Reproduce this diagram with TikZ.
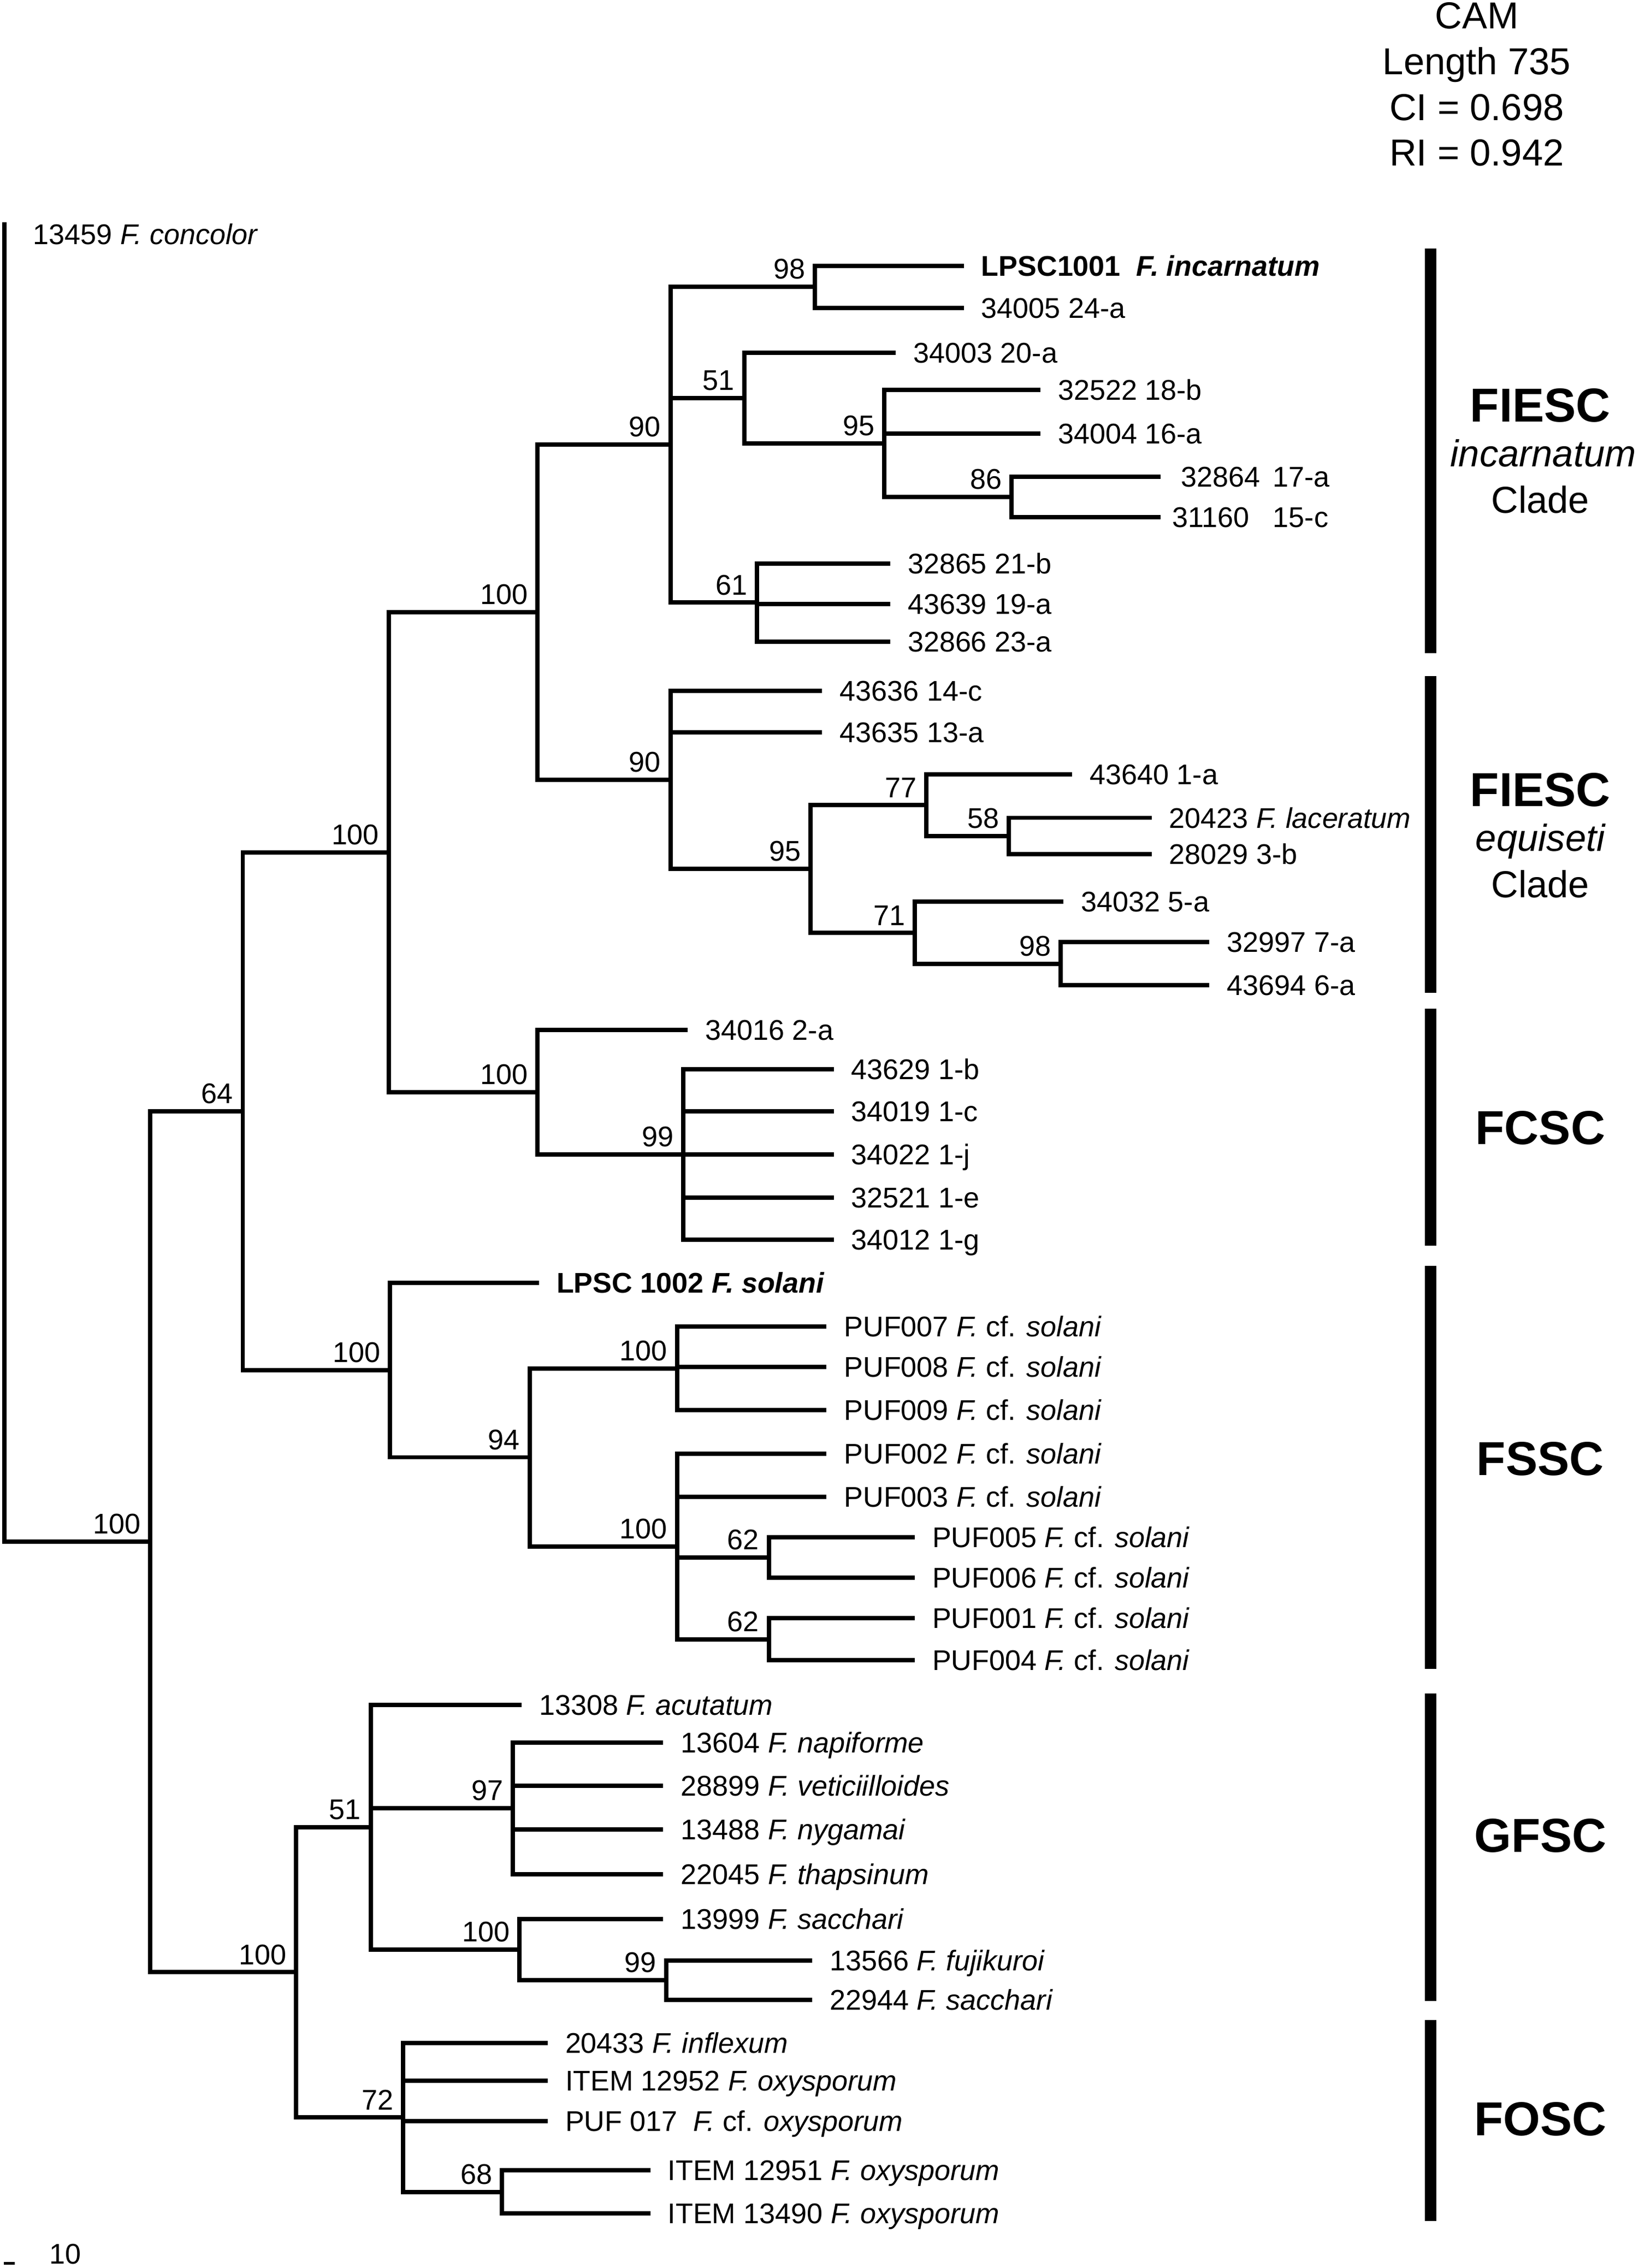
\documentclass[tikz,border=0pt]{standalone}
\usepackage{fontspec}
\setmainfont{Liberation Sans}
\usetikzlibrary{positioning}
\tikzset{
    x=1pt, y=-1pt, % picture measured in pt, y runs downwards
    branch/.style={line width=3pt}, % the tree lines
    leaf/.style={anchor=west, inner xsep=12pt, inner ysep=0pt, text height=14pt, text depth=0pt, font=\fontsize{19.7}{22}\selectfont},
    boot/.style={anchor=south east, inner sep=1.5pt, xshift=-5pt, yshift=3.5pt, font=\fontsize{19.7}{22}\selectfont},
    cladebar/.style={line width=8pt},
    cladename/.style={anchor=base, inner sep=0pt, font=\fontsize{33}{36}\selectfont\bfseries},
    cladesub/.style={anchor=base, inner sep=0pt, font=\fontsize{26}{30}\selectfont},
}

\begin{document}
\begin{tikzpicture}
    \useasboundingbox (0,0) rectangle (1134,1569.7);

    % statistics
    \node[anchor=north, align=center, inner sep=0pt, font=\fontsize{26}{31.7}\selectfont] (stats) at (1022,1.4) {CAM\\Length 735\\CI = 0.698\\RI = 0.942};

    % internal nodes
    \coordinate (rtop) at (3,154);
    \coordinate (n100i) at (104,1067);
    \coordinate (n64) at (168,769.1);
    \coordinate (n100c) at (269,589.9);
    \coordinate (n100a) at (372,423.7);
    \coordinate (n90a) at (464,307.75);
    \coordinate (n98a) at (564,198.5);
    \coordinate (n51a) at (515,275.5);
    \coordinate (n95a) at (612,307);
    \coordinate (n86) at (700,344);
    \coordinate (n61) at (524,417);
    \coordinate (n90b) at (464,539.7);
    \coordinate (n95b) at (561,601.4);
    \coordinate (n77) at (641,557.25);
    \coordinate (n58) at (698,578.5);
    \coordinate (n71) at (633,645.5);
    \coordinate (n98b) at (734,667);
    \coordinate (n100b) at (372,756);
    \coordinate (n99a) at (473,799);
    \coordinate (n100d) at (270,948.3);
    \coordinate (n94) at (366.5,1008.6);
    \coordinate (n100e) at (468.5,947);
    \coordinate (n100f) at (468.5,1070.25);
    \coordinate (n62a) at (532,1078);
    \coordinate (n62b) at (532,1134.5);
    \coordinate (n100h) at (205,1365);
    \coordinate (n51b) at (256.5,1264.6);
    \coordinate (n97) at (355,1251.5);
    \coordinate (n100g) at (359.5,1349.25);
    \coordinate (n99b) at (461,1370.5);
    \coordinate (n72) at (279,1465.5);
    \coordinate (n68) at (347.5,1517);

    % taxa
    \node[leaf] (concolor) at (10.8,162) {13459 \textit{F. concolor}};
    \node[leaf] (lpsc1001) at (667,184) {\bfseries LPSC1001\ \ \textit{F. incarnatum}};
    \node[leaf] (t34005) at (667,213) {34005 24-a};
    \node[leaf] (t34003) at (620,244) {34003 20-a};
    \node[leaf] (t32522) at (720,270) {32522 18-b};
    \node[leaf] (t34004) at (720,300) {34004 16-a};
    \node[leaf, inner xsep=14pt] (t32864) at (803,330) {32864\,\ 17-a};
    \node[leaf, inner xsep=8pt] (t31160) at (803,358) {31160\ \ \ 15-c};
    \node[leaf] (t32865) at (616,390) {32865 21-b};
    \node[leaf] (t43639) at (616,418) {43639 19-a};
    \node[leaf] (t32866) at (616,444) {32866 23-a};
    \node[leaf] (t43636) at (569,478) {43636 14-c};
    \node[leaf] (t43635) at (569,507) {43635 13-a};
    \node[leaf] (t43640) at (742,536) {43640 1-a};
    \node[leaf] (t20423) at (797,566) {20423 \textit{F. laceratum}};
    \node[leaf] (t28029) at (797,591) {28029 3-b};
    \node[leaf] (t34032) at (736,624) {34032 5-a};
    \node[leaf] (t32997) at (837,652) {32997 7-a};
    \node[leaf] (t43694) at (837,682) {43694 6-a};
    \node[leaf] (t34016) at (476,713) {34016 2-a};
    \node[leaf] (t43629) at (577,740) {43629 1-b};
    \node[leaf] (t34019) at (577,769) {34019 1-c};
    \node[leaf] (t34022) at (577,799) {34022 1-j};
    \node[leaf] (t32521) at (577,829) {32521 1-e};
    \node[leaf] (t34012) at (577,858) {34012 1-g};
    \node[leaf] (lpsc1002) at (373,888) {\bfseries LPSC 1002 \textit{F. solani}};
    \node[leaf] (puf007) at (572,918) {PUF007 \textit{F.} cf. \textit{solani}};
    \node[leaf] (puf008) at (572,946) {PUF008 \textit{F.} cf. \textit{solani}};
    \node[leaf] (puf009) at (572,976) {PUF009 \textit{F.} cf. \textit{solani}};
    \node[leaf] (puf002) at (572,1006) {PUF002 \textit{F.} cf. \textit{solani}};
    \node[leaf] (puf003) at (572,1036) {PUF003 \textit{F.} cf. \textit{solani}};
    \node[leaf] (puf005) at (633,1064) {PUF005 \textit{F.} cf. \textit{solani}};
    \node[leaf] (puf006) at (633,1092) {PUF006 \textit{F.} cf. \textit{solani}};
    \node[leaf] (puf001) at (633,1120) {PUF001 \textit{F.} cf. \textit{solani}};
    \node[leaf] (puf004) at (633,1149) {PUF004 \textit{F.} cf. \textit{solani}};
    \node[leaf] (t13308) at (361,1180) {13308 \textit{F. acutatum}};
    \node[leaf] (t13604) at (459,1206) {13604 \textit{F. napiforme}};
    \node[leaf] (t28899) at (459,1236) {28899 \textit{F. veticiilloides}};
    \node[leaf] (t13488) at (459,1266) {13488 \textit{F. nygamai}};
    \node[leaf] (t22045) at (459,1297) {22045 \textit{F. thapsinum}};
    \node[leaf] (t13999) at (459,1328) {13999 \textit{F. sacchari}};
    \node[leaf] (t13566) at (562,1357) {13566 \textit{F. fujikuroi}};
    \node[leaf] (t22944) at (562,1384) {22944 \textit{F. sacchari}};
    \node[leaf] (t20433) at (379,1414) {20433 \textit{F. inflexum}};
    \node[leaf] (item12952) at (379,1440) {ITEM 12952 \textit{F. oxysporum}};
    \node[leaf] (puf017) at (379,1468) {PUF 017\ \ \textit{F.} cf. \textit{oxysporum}};
    \node[leaf] (item12951) at (450,1502) {ITEM 12951 \textit{F. oxysporum}};
    \node[leaf] (item13490) at (450,1532) {ITEM 13490 \textit{F. oxysporum}};

    % branches
    \draw[branch] (rtop) |- (n100i);
    \draw[branch] (n100i) |- (n64) (n100i) |- (n100h);
    \draw[branch] (n64) |- (n100c) (n64) |- (n100d);
    \draw[branch] (n100c) |- (n100a) (n100c) |- (n100b);
    \draw[branch] (n100a) |- (n90a) (n100a) |- (n90b);
    \draw[branch] (n90a) |- (n98a) (n90a) |- (n51a) (n90a) |- (n61);
    \draw[branch] (n98a) |- (lpsc1001.west) (n98a) |- (t34005.west);
    \draw[branch] (n51a) |- (t34003.west) (n51a) |- (n95a);
    \draw[branch] (n95a) |- (t32522.west) (n95a) |- (t34004.west) (n95a) |- (n86);
    \draw[branch] (n86) |- (t32864.west) (n86) |- (t31160.west);
    \draw[branch] (n61) |- (t32865.west) (n61) |- (t43639.west) (n61) |- (t32866.west);
    \draw[branch] (n90b) |- (t43636.west) (n90b) |- (t43635.west) (n90b) |- (n95b);
    \draw[branch] (n95b) |- (n77) (n95b) |- (n71);
    \draw[branch] (n77) |- (t43640.west) (n77) |- (n58);
    \draw[branch] (n58) |- (t20423.west) (n58) |- (t28029.west);
    \draw[branch] (n71) |- (t34032.west) (n71) |- (n98b);
    \draw[branch] (n98b) |- (t32997.west) (n98b) |- (t43694.west);
    \draw[branch] (n100b) |- (t34016.west) (n100b) |- (n99a);
    \draw[branch] (n99a) |- (t43629.west) (n99a) |- (t34019.west) (n99a) |- (t34022.west)
                  (n99a) |- (t32521.west) (n99a) |- (t34012.west);
    \draw[branch] (n100d) |- (lpsc1002.west) (n100d) |- (n94);
    \draw[branch] (n94) |- (n100e) (n94) |- (n100f);
    \draw[branch] (n100e) |- (puf007.west) (n100e) |- (puf008.west) (n100e) |- (puf009.west);
    \draw[branch] (n100f) |- (puf002.west) (n100f) |- (puf003.west) (n100f) |- (n62a) (n100f) |- (n62b);
    \draw[branch] (n62a) |- (puf005.west) (n62a) |- (puf006.west);
    \draw[branch] (n62b) |- (puf001.west) (n62b) |- (puf004.west);
    \draw[branch] (n100h) |- (n51b) (n100h) |- (n72);
    \draw[branch] (n51b) |- (t13308.west) (n51b) |- (n97) (n51b) |- (n100g);
    \draw[branch] (n97) |- (t13604.west) (n97) |- (t28899.west) (n97) |- (t13488.west) (n97) |- (t22045.west);
    \draw[branch] (n100g) |- (t13999.west) (n100g) |- (n99b);
    \draw[branch] (n99b) |- (t13566.west) (n99b) |- (t22944.west);
    \draw[branch] (n72) |- (t20433.west) (n72) |- (item12952.west) (n72) |- (puf017.west) (n72) |- (n68);
    \draw[branch] (n68) |- (item12951.west) (n68) |- (item13490.west);

    % bootstrap values
    \node[boot] (b100i) at (n100i) {100};
    \node[boot] (b64) at (n64) {64};
    \node[boot] (b100c) at (n100c) {100};
    \node[boot] (b100a) at (n100a) {100};
    \node[boot] (b90a) at (n90a) {90};
    \node[boot] (b98a) at (n98a) {98};
    \node[boot] (b51a) at (n51a) {51};
    \node[boot] (b95a) at (n95a) {95};
    \node[boot] (b86) at (n86) {86};
    \node[boot] (b61) at (n61) {61};
    \node[boot] (b90b) at (n90b) {90};
    \node[boot] (b95b) at (n95b) {95};
    \node[boot] (b77) at (n77) {77};
    \node[boot] (b58) at (n58) {58};
    \node[boot] (b71) at (n71) {71};
    \node[boot] (b98b) at (n98b) {98};
    \node[boot] (b100b) at (n100b) {100};
    \node[boot] (b99a) at (n99a) {99};
    \node[boot] (b100d) at (n100d) {100};
    \node[boot] (b94) at (n94) {94};
    \node[boot] (b100e) at (n100e) {100};
    \node[boot] (b100f) at (n100f) {100};
    \node[boot] (b62a) at (n62a) {62};
    \node[boot] (b62b) at (n62b) {62};
    \node[boot] (b100h) at (n100h) {100};
    \node[boot] (b51b) at (n51b) {51};
    \node[boot] (b97) at (n97) {97};
    \node[boot] (b100g) at (n100g) {100};
    \node[boot] (b99b) at (n99b) {99};
    \node[boot] (b72) at (n72) {72};
    \node[boot] (b68) at (n68) {68};

    % clade bars and names
    \coordinate (bar1a) at (990,172);  \coordinate (bar1b) at (990,452);
    \coordinate (bar2a) at (990,468);  \coordinate (bar2b) at (990,687);
    \coordinate (bar3a) at (990,698);  \coordinate (bar3b) at (990,862);
    \coordinate (bar4a) at (990,876);  \coordinate (bar4b) at (990,1155);
    \coordinate (bar5a) at (990,1172); \coordinate (bar5b) at (990,1385);
    \coordinate (bar6a) at (990,1398); \coordinate (bar6b) at (990,1537);
    \draw[cladebar] (bar1a) -- (bar1b);
    \draw[cladebar] (bar2a) -- (bar2b);
    \draw[cladebar] (bar3a) -- (bar3b);
    \draw[cladebar] (bar4a) -- (bar4b);
    \draw[cladebar] (bar5a) -- (bar5b);
    \draw[cladebar] (bar6a) -- (bar6b);

    \node[cladename] (fiesc1) at (1066,292) {FIESC};
    \node[cladesub] (incarn) at (1068,323) {\itshape incarnatum};
    \node[cladesub] (clade1) at (1066,355) {Clade};
    \node[cladename] (fiesc2) at (1066,558) {FIESC};
    \node[cladesub] (equis) at (1066,589) {\itshape equiseti};
    \node[cladesub] (clade2) at (1066,621) {Clade};
    \node[cladename] (fcsc) at (1066,792) {FCSC};
    \node[cladename] (fssc) at (1066,1021) {FSSC};
    \node[cladename] (gfsc) at (1066,1282) {GFSC};
    \node[cladename] (fosc) at (1066,1478) {FOSC};

    % scale
    \coordinate (sbl) at (2.6,1566.5);
    \coordinate (sbr) at (10.3,1566.5);
    \draw[line width=1.8pt] (sbl) -- (sbr);
    \node[anchor=base west, inner sep=0pt, font=\fontsize{19.7}{22}\selectfont] (sbtext) at (34,1567) {10};
\end{tikzpicture}
\end{document}
